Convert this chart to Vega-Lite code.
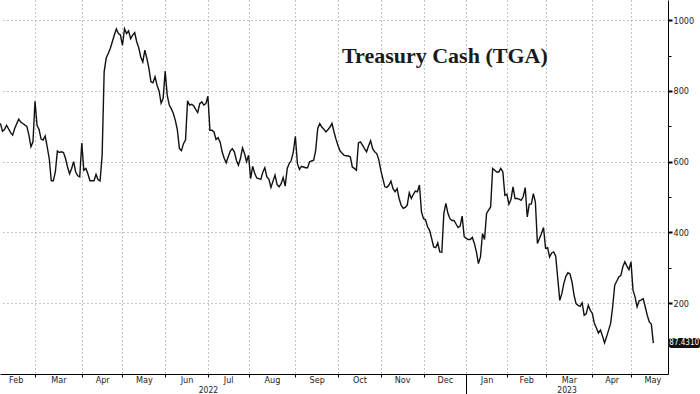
{
  "$schema": "https://vega.github.io/schema/vega-lite/v6.json",
  "width": 668,
  "height": 374,
  "autosize": {"type": "none"},
  "padding": {"left": 0, "top": 0, "right": 32, "bottom": 20},
  "background": "white",
  "title": {
    "text": "Treasury Cash (TGA)",
    "orient": "top",
    "anchor": "start",
    "frame": "group",
    "dx": 342,
    "dy": 72,
    "font": "Liberation Serif",
    "fontSize": 22,
    "fontWeight": "bold",
    "color": "#1a1a1a"
  },
  "config": {
    "view": {"stroke": null},
    "axis": {
      "labelFont": "Liberation Sans Narrow, Arial Narrow, DejaVu Sans Condensed, sans-serif",
      "labelFontSize": 9,
      "labelColor": "#222222"
    }
  },
  "datasets": {
    "tga": [
      {"day": 2, "cash": 708}, {"day": 3, "cash": 686}, {"day": 4, "cash": 691}, {"day": 5, "cash": 703},
      {"day": 7, "cash": 682}, {"day": 8, "cash": 675}, {"day": 9, "cash": 694}, {"day": 11, "cash": 720},
      {"day": 12, "cash": 712}, {"day": 13, "cash": 708}, {"day": 15, "cash": 700}, {"day": 16, "cash": 675},
      {"day": 17, "cash": 642}, {"day": 18, "cash": 656}, {"day": 19, "cash": 771}, {"day": 20, "cash": 703},
      {"day": 21, "cash": 691}, {"day": 22, "cash": 664}, {"day": 23, "cash": 661}, {"day": 24, "cash": 673},
      {"day": 25, "cash": 642}, {"day": 26, "cash": 609}, {"day": 27, "cash": 546}, {"day": 28, "cash": 546},
      {"day": 29, "cash": 571}, {"day": 30, "cash": 630}, {"day": 31, "cash": 626}, {"day": 32, "cash": 628},
      {"day": 33, "cash": 626}, {"day": 34, "cash": 609}, {"day": 35, "cash": 585}, {"day": 36, "cash": 566},
      {"day": 37, "cash": 581}, {"day": 38, "cash": 600}, {"day": 39, "cash": 571}, {"day": 40, "cash": 560},
      {"day": 41, "cash": 557}, {"day": 42, "cash": 653}, {"day": 43, "cash": 576}, {"day": 44, "cash": 581},
      {"day": 45, "cash": 566}, {"day": 46, "cash": 546}, {"day": 47, "cash": 546}, {"day": 48, "cash": 546},
      {"day": 49, "cash": 564}, {"day": 50, "cash": 549}, {"day": 51, "cash": 546}, {"day": 52, "cash": 618},
      {"day": 53, "cash": 854}, {"day": 54, "cash": 893}, {"day": 55, "cash": 906}, {"day": 56, "cash": 920},
      {"day": 57, "cash": 939}, {"day": 58, "cash": 958}, {"day": 59, "cash": 975}, {"day": 60, "cash": 962},
      {"day": 61, "cash": 958}, {"day": 62, "cash": 929}, {"day": 63, "cash": 976}, {"day": 64, "cash": 962},
      {"day": 65, "cash": 970}, {"day": 66, "cash": 948}, {"day": 67, "cash": 958}, {"day": 68, "cash": 965},
      {"day": 69, "cash": 939}, {"day": 70, "cash": 922}, {"day": 71, "cash": 896}, {"day": 72, "cash": 882},
      {"day": 73, "cash": 915}, {"day": 74, "cash": 892}, {"day": 75, "cash": 864}, {"day": 76, "cash": 826},
      {"day": 77, "cash": 823}, {"day": 78, "cash": 840}, {"day": 79, "cash": 816}, {"day": 80, "cash": 800},
      {"day": 81, "cash": 765}, {"day": 82, "cash": 779}, {"day": 83, "cash": 856}, {"day": 84, "cash": 788},
      {"day": 85, "cash": 760}, {"day": 86, "cash": 750}, {"day": 87, "cash": 736}, {"day": 88, "cash": 717},
      {"day": 89, "cash": 689}, {"day": 90, "cash": 637}, {"day": 91, "cash": 631}, {"day": 92, "cash": 651},
      {"day": 93, "cash": 661}, {"day": 94, "cash": 772}, {"day": 95, "cash": 760}, {"day": 96, "cash": 762},
      {"day": 97, "cash": 758}, {"day": 98, "cash": 748}, {"day": 99, "cash": 739}, {"day": 100, "cash": 764},
      {"day": 101, "cash": 769}, {"day": 102, "cash": 760}, {"day": 103, "cash": 764}, {"day": 104, "cash": 785},
      {"day": 105, "cash": 689}, {"day": 106, "cash": 689}, {"day": 107, "cash": 684}, {"day": 108, "cash": 663},
      {"day": 109, "cash": 668}, {"day": 110, "cash": 656}, {"day": 111, "cash": 628}, {"day": 112, "cash": 610},
      {"day": 113, "cash": 597}, {"day": 114, "cash": 614}, {"day": 115, "cash": 630}, {"day": 116, "cash": 637},
      {"day": 117, "cash": 628}, {"day": 118, "cash": 604}, {"day": 119, "cash": 590}, {"day": 120, "cash": 609},
      {"day": 121, "cash": 639}, {"day": 122, "cash": 623}, {"day": 123, "cash": 600}, {"day": 124, "cash": 618},
      {"day": 125, "cash": 552}, {"day": 126, "cash": 587}, {"day": 127, "cash": 567}, {"day": 128, "cash": 554},
      {"day": 129, "cash": 552}, {"day": 130, "cash": 550}, {"day": 131, "cash": 570}, {"day": 132, "cash": 583},
      {"day": 133, "cash": 557}, {"day": 134, "cash": 550}, {"day": 135, "cash": 527}, {"day": 136, "cash": 545},
      {"day": 137, "cash": 562}, {"day": 138, "cash": 536}, {"day": 139, "cash": 529}, {"day": 140, "cash": 538},
      {"day": 141, "cash": 555}, {"day": 142, "cash": 531}, {"day": 143, "cash": 581}, {"day": 144, "cash": 595},
      {"day": 145, "cash": 604}, {"day": 146, "cash": 628}, {"day": 147, "cash": 672}, {"day": 148, "cash": 595},
      {"day": 149, "cash": 578}, {"day": 150, "cash": 587}, {"day": 151, "cash": 585}, {"day": 152, "cash": 583},
      {"day": 153, "cash": 583}, {"day": 154, "cash": 600}, {"day": 155, "cash": 602}, {"day": 156, "cash": 604},
      {"day": 157, "cash": 633}, {"day": 158, "cash": 694}, {"day": 159, "cash": 708}, {"day": 160, "cash": 698},
      {"day": 161, "cash": 692}, {"day": 162, "cash": 684}, {"day": 163, "cash": 690}, {"day": 164, "cash": 698},
      {"day": 165, "cash": 708}, {"day": 166, "cash": 684}, {"day": 167, "cash": 663}, {"day": 168, "cash": 645},
      {"day": 169, "cash": 630}, {"day": 170, "cash": 624}, {"day": 171, "cash": 618}, {"day": 172, "cash": 617},
      {"day": 173, "cash": 616}, {"day": 174, "cash": 614}, {"day": 175, "cash": 585}, {"day": 176, "cash": 581},
      {"day": 177, "cash": 576}, {"day": 178, "cash": 653}, {"day": 179, "cash": 656}, {"day": 180, "cash": 647},
      {"day": 181, "cash": 637}, {"day": 182, "cash": 628}, {"day": 183, "cash": 645}, {"day": 184, "cash": 659},
      {"day": 185, "cash": 637}, {"day": 186, "cash": 628}, {"day": 187, "cash": 623}, {"day": 188, "cash": 606},
      {"day": 189, "cash": 576}, {"day": 190, "cash": 552}, {"day": 191, "cash": 529}, {"day": 192, "cash": 527},
      {"day": 193, "cash": 534}, {"day": 194, "cash": 545}, {"day": 195, "cash": 524}, {"day": 196, "cash": 515},
      {"day": 197, "cash": 524}, {"day": 198, "cash": 496}, {"day": 199, "cash": 477}, {"day": 200, "cash": 468},
      {"day": 201, "cash": 471}, {"day": 202, "cash": 477}, {"day": 203, "cash": 512}, {"day": 204, "cash": 496},
      {"day": 205, "cash": 508}, {"day": 206, "cash": 517}, {"day": 207, "cash": 515}, {"day": 208, "cash": 534},
      {"day": 209, "cash": 458}, {"day": 210, "cash": 439}, {"day": 211, "cash": 436}, {"day": 212, "cash": 416},
      {"day": 213, "cash": 406}, {"day": 214, "cash": 383}, {"day": 215, "cash": 359}, {"day": 216, "cash": 357},
      {"day": 217, "cash": 371}, {"day": 218, "cash": 345}, {"day": 219, "cash": 344}, {"day": 220, "cash": 454},
      {"day": 221, "cash": 482}, {"day": 222, "cash": 454}, {"day": 223, "cash": 439}, {"day": 224, "cash": 434},
      {"day": 225, "cash": 434}, {"day": 226, "cash": 424}, {"day": 227, "cash": 414}, {"day": 228, "cash": 418},
      {"day": 229, "cash": 446}, {"day": 230, "cash": 388}, {"day": 231, "cash": 383}, {"day": 232, "cash": 380},
      {"day": 233, "cash": 380}, {"day": 234, "cash": 386}, {"day": 235, "cash": 369}, {"day": 236, "cash": 345},
      {"day": 237, "cash": 312}, {"day": 238, "cash": 331}, {"day": 239, "cash": 397}, {"day": 240, "cash": 380},
      {"day": 241, "cash": 454}, {"day": 242, "cash": 463}, {"day": 243, "cash": 472}, {"day": 244, "cash": 581},
      {"day": 245, "cash": 576}, {"day": 246, "cash": 571}, {"day": 247, "cash": 571}, {"day": 248, "cash": 581},
      {"day": 249, "cash": 571}, {"day": 250, "cash": 505}, {"day": 251, "cash": 508}, {"day": 252, "cash": 480},
      {"day": 253, "cash": 493}, {"day": 254, "cash": 529}, {"day": 255, "cash": 496}, {"day": 256, "cash": 496},
      {"day": 257, "cash": 494}, {"day": 258, "cash": 491}, {"day": 259, "cash": 501}, {"day": 260, "cash": 527},
      {"day": 261, "cash": 444}, {"day": 262, "cash": 480}, {"day": 263, "cash": 480}, {"day": 264, "cash": 510},
      {"day": 265, "cash": 486}, {"day": 266, "cash": 369}, {"day": 267, "cash": 383}, {"day": 268, "cash": 397},
      {"day": 269, "cash": 414}, {"day": 270, "cash": 355}, {"day": 271, "cash": 357}, {"day": 272, "cash": 331},
      {"day": 273, "cash": 342}, {"day": 274, "cash": 345}, {"day": 275, "cash": 333}, {"day": 276, "cash": 270},
      {"day": 277, "cash": 208}, {"day": 278, "cash": 227}, {"day": 279, "cash": 256}, {"day": 280, "cash": 276},
      {"day": 281, "cash": 286}, {"day": 282, "cash": 283}, {"day": 283, "cash": 260}, {"day": 284, "cash": 223},
      {"day": 285, "cash": 199}, {"day": 286, "cash": 194}, {"day": 287, "cash": 191}, {"day": 288, "cash": 201},
      {"day": 289, "cash": 166}, {"day": 290, "cash": 170}, {"day": 291, "cash": 194}, {"day": 292, "cash": 180},
      {"day": 293, "cash": 171}, {"day": 294, "cash": 143}, {"day": 295, "cash": 130}, {"day": 296, "cash": 116},
      {"day": 297, "cash": 124}, {"day": 298, "cash": 107}, {"day": 299, "cash": 88}, {"day": 300, "cash": 105},
      {"day": 301, "cash": 124}, {"day": 302, "cash": 143}, {"day": 303, "cash": 190}, {"day": 304, "cash": 251},
      {"day": 305, "cash": 262}, {"day": 306, "cash": 274}, {"day": 307, "cash": 278}, {"day": 308, "cash": 303},
      {"day": 309, "cash": 317}, {"day": 310, "cash": 305}, {"day": 311, "cash": 295}, {"day": 312, "cash": 317},
      {"day": 313, "cash": 237}, {"day": 314, "cash": 218}, {"day": 315, "cash": 190}, {"day": 316, "cash": 207},
      {"day": 317, "cash": 209}, {"day": 318, "cash": 213}, {"day": 319, "cash": 190}, {"day": 320, "cash": 166},
      {"day": 321, "cash": 147}, {"day": 322, "cash": 141}, {"day": 323, "cash": 87.431}
    ],
    "last": [{"day": 323, "cash": 87.431, "label": "87.4310"}]
  },
  "resolve": {"axis": {"x": "independent", "y": "independent"}},
  "layer": [
    {
      "data": {"name": "tga"},
      "mark": {"type": "line", "color": "#111111", "strokeWidth": 1.4},
      "encoding": {
        "x": {
          "field": "day", "type": "quantitative",
          "scale": {"domain": [1.79, 330.2], "nice": false, "zero": false},
          "axis": {
            "orient": "bottom",
            "values": [19, 42, 62, 83, 104, 124, 147, 168, 189, 210, 231, 251, 270, 293, 312],
            "grid": true, "gridDash": [1, 3], "gridColor": "#8c8c8c", "gridWidth": 1,
            "domain": true, "domainColor": "#000000", "domainWidth": 1,
            "ticks": true, "tickColor": "#000000",
            "tickSize": {"condition": {"test": "datum.value === 231", "value": 20}, "value": 3},
            "labelExpr": "datum.value === 104 ? '2022' : (datum.value === 270 ? '2023' : '')",
            "labelOffset": {"condition": {"test": "datum.value === 270", "value": 21}, "value": 0},
            "labelFontSize": 8.5,
            "labelPadding": 8.5, "labelOverlap": false, "labelFlush": false, "labelBound": false,
            "title": null
          }
        },
        "y": {
          "field": "cash", "type": "quantitative",
          "scale": {"domain": [0, 1057], "nice": false, "zero": false},
          "axis": {
            "orient": "right",
            "values": [200, 400, 600, 800, 1000],
            "format": "d",
            "grid": true, "gridDash": [1, 3], "gridColor": "#8c8c8c", "gridWidth": 1,
            "domain": true, "domainColor": "#000000", "domainWidth": 1,
            "tickSize": 4, "tickWidth": 2, "tickColor": "#000000",
            "labelPadding": 1, "labelOverlap": false, "labelFlush": false, "labelBound": false,
            "title": null
          }
        }
      }
    },
    {
      "data": {"name": "last"},
      "mark": {"type": "rect", "width": 32, "height": 10, "cornerRadius": 3, "color": "#111111", "xOffset": 31},
      "encoding": {
        "x": {
          "field": "day", "type": "quantitative",
          "scale": {"domain": [1.79, 330.2], "nice": false, "zero": false},
          "axis": {
            "orient": "bottom",
            "values": [9.5, 30.5, 52, 72.5, 93.5, 114, 135.5, 157.5, 178.5, 199.5, 220.5, 241, 260.5, 281.5, 302.5, 322.5],
            "labelExpr": "['Feb','Mar','Apr','May','Jun','Jul','Aug','Sep','Oct','Nov','Dec','Jan','Feb','Mar','Apr','May'][indexof([9.5, 30.5, 52, 72.5, 93.5, 114, 135.5, 157.5, 178.5, 199.5, 220.5, 241, 260.5, 281.5, 302.5, 322.5], datum.value)]",
            "grid": false, "domain": false, "ticks": false,
            "labelPadding": 1, "labelOverlap": false, "labelFlush": false, "labelBound": false,
            "title": null
          }
        },
        "y": {
          "field": "cash", "type": "quantitative",
          "scale": {"domain": [0, 1057], "nice": false, "zero": false},
          "axis": {
            "orient": "right",
            "values": [100, 300, 500, 700, 900],
            "grid": false, "domain": false, "labels": false,
            "tickSize": 3, "tickWidth": 1, "tickColor": "#000000",
            "title": null
          }
        }
      }
    },
    {
      "data": {"name": "last"},
      "mark": {"type": "text", "align": "left", "baseline": "middle", "dx": 16, "color": "#ffffff", "fontSize": 8, "font": "Liberation Sans Narrow, Arial Narrow, DejaVu Sans Condensed, sans-serif"},
      "encoding": {
        "x": {"field": "day", "type": "quantitative", "scale": {"domain": [1.79, 330.2], "nice": false, "zero": false}, "axis": null},
        "y": {"field": "cash", "type": "quantitative", "scale": {"domain": [0, 1057], "nice": false, "zero": false}, "axis": null},
        "text": {"field": "label"}
      }
    }
  ]
}
